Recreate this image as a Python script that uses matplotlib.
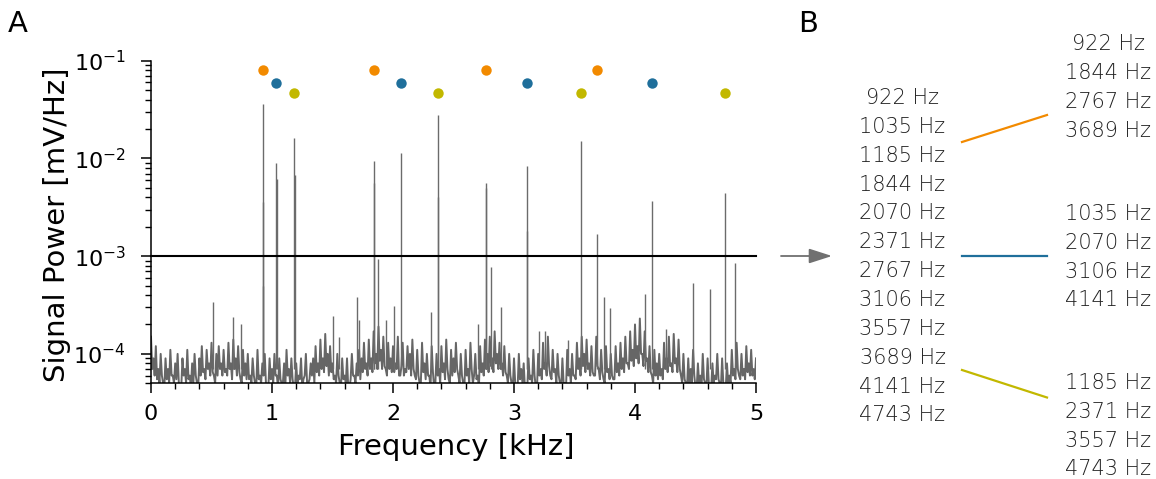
import numpy as np
import matplotlib
matplotlib.use("Agg")
import matplotlib.pyplot as plt
from matplotlib.ticker import LogLocator, MultipleLocator, NullFormatter

# ---------------- data ----------------
# background noise spectrum (units of 1e-5 mV/Hz)
# even bins (local crests): 0, 20, 40, ... 5000 Hz
noise_even_1e5 = [
    15, 9, 12, 7, 10, 5, 9, 7, 11, 6,
    8, 10, 4.5, 9, 7, 11, 6, 8, 10, 5,
    9, 12, 7, 11, 8, 13, 6, 10, 12, 8,
    11, 7, 13, 8, 14, 9, 12, 5.5, 11, 8,
    10, 6, 9, 5, 11, 6, 8, 10, 4.5, 9,
    7, 10, 6, 9, 5, 8, 11, 7, 9, 4.5,
    8, 6, 9, 5.5, 10, 5, 8, 9, 12, 8,
    14, 9, 16, 10, 12, 8, 6, 10, 5, 9,
    6, 9, 4.5, 10, 6, 8, 11, 9, 13, 8,
    14, 9, 17, 10, 19, 11, 15, 7, 13, 9,
    12, 8, 15, 6, 13, 7, 12, 10, 14, 6,
    11, 5, 13, 8, 10, 6, 12, 4.5, 10, 7,
    12, 8, 14, 5.5, 11, 9, 13, 6, 10, 5,
    11, 7, 13, 5, 10, 6, 12, 8, 14, 10,
    15, 9, 17, 10, 13, 8, 12, 6, 10, 5,
    9, 4.5, 10, 7, 8, 5, 9, 6, 11, 4.5,
    10, 7, 13, 8, 15, 6, 11, 7, 10, 5,
    9, 5, 11, 7, 10, 6, 13, 9, 15, 10,
    14, 8, 12, 6, 15, 7, 11, 5.5, 12, 7,
    10, 5.5, 12, 8, 13, 9, 15, 8, 17, 11,
    20, 12, 23, 10, 17, 9, 12, 6, 11, 8,
    10, 7, 13, 9, 15, 8, 16, 9, 14, 6,
    10, 5, 9, 7, 11, 4.5, 8, 6, 10, 5,
    9, 4.5, 8, 6, 10, 5, 9, 4.5, 8, 6,
    11, 7, 13, 6, 10, 7, 12, 8, 11, 7,
    9,
]
# odd bins (local troughs): 10, 30, 50, ... 4990 Hz
noise_odd_1e5 = [
    7, 6, 5.5, 5, 6, 4.5, 5.5, 5, 6, 5,
    5.5, 5, 4.5, 6, 5, 5.5, 4.5, 5, 6, 4.5,
    6, 6.5, 5.5, 7, 6, 6.5, 5, 6, 7, 6,
    6.5, 6, 7, 5.5, 7, 6, 6.5, 5, 6, 5.5,
    5.5, 5, 6, 4.5, 5.5, 5, 6, 5, 4.5, 5.5,
    5, 6, 4.5, 5.5, 5, 4.5, 6, 5, 5.5, 4.5,
    5, 5.5, 4.5, 6, 5, 5.5, 6, 5, 6.5, 6,
    7, 6.5, 7.5, 6, 6.5, 5.5, 5, 6, 4.5, 5.5,
    5, 4.5, 5.5, 6, 5, 6, 5.5, 6.5, 7, 6,
    7, 6.5, 8, 7, 8.5, 7, 7.5, 6, 7, 6.5,
    6.5, 7, 6, 7.5, 6, 6.5, 7, 6, 7, 5.5,
    6, 5, 6.5, 5.5, 6, 4.5, 6.5, 5, 6, 5,
    6.5, 5.5, 7, 5, 6, 6.5, 7, 5, 6, 4.5,
    6, 5, 7, 6, 5.5, 4.5, 6.5, 6, 7, 6.5,
    7.5, 6.5, 8, 7, 7, 6, 6.5, 5, 6, 4.5,
    5, 4.5, 5.5, 5, 4.5, 4.5, 5.5, 5, 6, 4.5,
    6, 5.5, 7, 6, 7.5, 5.5, 6.5, 5, 6, 4.5,
    5, 4.5, 6, 5, 6, 5.5, 7, 6, 7.5, 6.5,
    7, 6, 6.5, 6, 7.5, 5.5, 6.5, 5, 6.5, 5.5,
    6, 5.5, 6.5, 6, 7, 6.5, 8, 7, 8.5, 7.5,
    9, 8, 10, 7.5, 8.5, 6.5, 6.5, 5, 6, 5.5,
    6, 5.5, 7, 6.5, 7.5, 6.5, 8, 6.5, 7, 5,
    5.5, 4.5, 5, 5, 6, 4.5, 5, 4.5, 5.5, 4.5,
    5, 4.5, 5, 5.5, 5.5, 4.5, 5, 4.5, 5, 5,
    6, 5.5, 7, 5.5, 6, 5.5, 6.5, 6, 6, 5.5,
]

# spectral peaks (Hz, mV/Hz)
peak_freqs_hz = [922, 925, 927, 1035, 1038, 1185, 1188, 1844, 1847, 1873,
                 2070, 2371, 2374, 2767, 2770, 2810, 3106, 3109, 3557, 3689,
                 4141, 4743, 4830,
                 510, 675, 745, 1500, 1550, 1700, 1720, 1940, 2005, 2310,
                 2700, 2890, 3210, 3260, 3450, 3745, 3795, 4080, 4260,
                 4480, 4620]
peak_power = [0.036, 0.0036, 5.0e-4, 0.0089, 0.0062, 0.016, 0.0067, 0.0095, 0.0056, 9.3e-4,
              0.0113, 0.028, 0.0040, 0.0056, 0.0050, 7.7e-4, 0.0083, 0.0018, 0.015, 0.0017,
              0.0037, 0.0044, 8.5e-4,
              3.4e-4, 2.4e-4, 2.0e-4, 2.45e-4, 1.5e-4, 3.8e-4, 2.2e-4, 2.2e-4, 3.1e-4, 2.7e-4,
              2.0e-4, 3.0e-4, 1.7e-4, 1.7e-4, 1.4e-4, 3.8e-4, 2.95e-4, 4.1e-4, 1.8e-4,
              5.3e-4, 4.6e-4]
peak_base = 7e-5

# detected harmonic groups (Hz) and their marker heights
group_colors = ["#f28a00", "#1f6f9b", "#c2b800"]
group_freqs_hz = [[922, 1844, 2767, 3689],
                  [1035, 2070, 3106, 4141],
                  [1185, 2371, 3557, 4743]]
group_marker_y = [0.08, 0.059, 0.047]

threshold = 1e-3

all_freqs_hz = [922, 1035, 1185, 1844, 2070, 2371, 2767, 3106, 3557, 3689, 4141, 4743]

# ---------------- figure ----------------
W, H = 1156, 479
fig = plt.figure(figsize=(W / 100, H / 100), dpi=100)

ax = fig.add_axes([151 / W, 1 - 383.3 / H, 605 / W, 322.6 / H])
f_even = np.arange(len(noise_even_1e5)) * 20.0
f_odd = 10.0 + np.arange(len(noise_odd_1e5)) * 20.0
f_all = np.concatenate([f_even, f_odd])
p_all = np.concatenate([noise_even_1e5, noise_odd_1e5]) * 1e-5
order = np.argsort(f_all)
ax.plot(f_all[order] / 1000.0, p_all[order], color="#666666", lw=1.4, zorder=2)
ax.vlines(np.array(peak_freqs_hz) / 1000.0, peak_base, peak_power,
          color="#6b6b6b", lw=1.0, zorder=2)
ax.plot([0, 5], [threshold, threshold], color="black", lw=1.5, zorder=3, clip_on=False)
for col, fr, yv in zip(group_colors, group_freqs_hz, group_marker_y):
    ax.plot(np.array(fr) / 1000.0, [yv] * len(fr), "o", color=col, ms=7.5,
            mec="none", zorder=4, clip_on=False)

ax.set_yscale("log")
ax.set_ylim(5e-5, 0.1)
ax.set_xlim(0, 5)
for s in ["top", "right"]:
    ax.spines[s].set_visible(False)
for s in ["left", "bottom"]:
    ax.spines[s].set_linewidth(1.1)
ax.set_yticks([1e-4, 1e-3, 1e-2, 1e-1])
ax.yaxis.set_minor_locator(LogLocator(base=10, subs=np.arange(2, 10)))
ax.yaxis.set_minor_formatter(NullFormatter())
ax.xaxis.set_major_locator(MultipleLocator(1))
ax.xaxis.set_minor_locator(MultipleLocator(0.2))
ax.tick_params(axis="both", which="major", direction="out", length=7, width=1.1, labelsize=16)
ax.tick_params(axis="both", which="minor", direction="out", length=4, width=1.0)
ax.tick_params(axis="y", which="major", pad=11)
ax.tick_params(axis="x", which="major", pad=8)
ax.set_xlabel("Frequency [kHz]", fontsize=21)
ax.set_ylabel("Signal Power [mV/Hz]", fontsize=21)
ax.xaxis.set_label_coords(0.505, -0.155)
ax.yaxis.set_label_coords(-0.132, 0.49)

fig.text(8 / W, 1 - 32 / H, "A", fontsize=21, va="baseline", ha="left")
fig.text(798 / W, 1 - 32 / H, "B", fontsize=21, va="baseline", ha="left")

# ---------------- panel B overlay (pixel coordinates) ----------------
ov = fig.add_axes([0, 0, 1, 1], facecolor="none")
ov.set_xlim(0, W)
ov.set_ylim(H, 0)
ov.axis("off")

txt_kw = dict(fontsize=15, color="#222222", ha="center", va="baseline",
              family="DejaVu Sans", fontweight="light")
for i, f in enumerate(all_freqs_hz):
    ov.text(902.5, 104 + i * 28.86, f"{f} Hz", **txt_kw)

group_baselines = [[50, 79, 108, 137], [220, 249, 278, 306], [389, 418, 447, 475]]
for fr, bl in zip(group_freqs_hz, group_baselines):
    for f, b in zip(fr, bl):
        ov.text(1108, b, f"{f} Hz", **txt_kw)

ov.plot([962, 1047], [142, 115], color=group_colors[0], lw=1.6)
ov.plot([962, 1047], [256, 256], color=group_colors[1], lw=1.6)
ov.plot([962, 1047], [370, 397.5], color=group_colors[2], lw=1.6)

ov.annotate("", xy=(832, 256), xytext=(781, 256),
            arrowprops=dict(arrowstyle="-|>,head_length=1.4,head_width=0.45",
                            color="#707070", lw=1.3, shrinkA=0, shrinkB=0))

fig.savefig("out.png", dpi=100)
